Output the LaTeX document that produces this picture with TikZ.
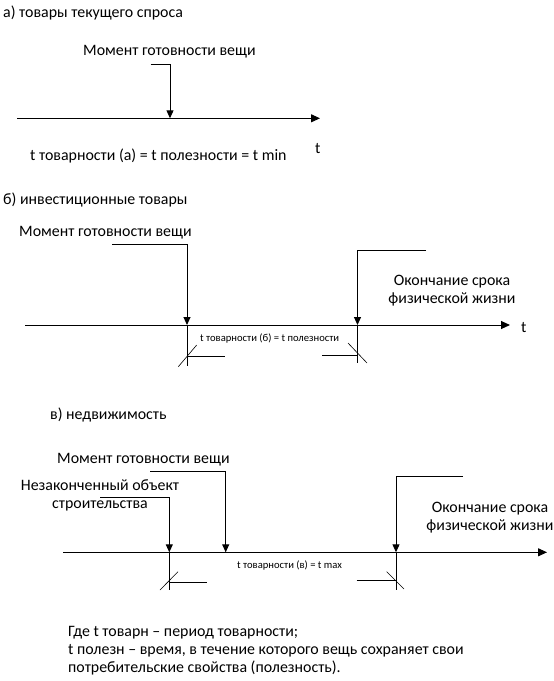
\documentclass[tikz,border=0pt]{standalone}
\usepackage{fontspec}
\setmainfont{Carlito}
\usetikzlibrary{arrows.meta}
\begin{document}
\begin{tikzpicture}[x=1pt,y=-1pt,
  txt/.style={inner sep=0pt,font=\fontsize{15.9}{17.6}\selectfont},
  small/.style={inner sep=0pt,font=\fontsize{10.6}{12}\selectfont},
  line/.style={line width=1pt,black},
  thin line/.style={line width=0.6pt,black},
  conn/.style={line width=1pt,black,-{Triangle[length=8pt,width=7pt]}},
  axisline/.style={line width=1pt,black,-{Triangle[length=9pt,width=8pt]}}]
\useasboundingbox (0,0) rectangle (554,681);
% ---------- a ----------
\node[txt,anchor=base west] (ta) at (3,17) {а) товары текущего спроса};
\node[txt,anchor=base west] (ma) at (83,55) {Момент готовности вещи};
\coordinate (a1s) at (150.7,64.3);
\coordinate (a1t) at (170,118.3);
\coordinate (axa0) at (17,118.3);
\coordinate (axa1) at (320,118.3);
\draw[axisline] (axa0) -- (axa1);
\draw[conn] (a1s) -| (a1t);
\node[txt,anchor=base west] (tta) at (315,153) {t};
\node[txt,anchor=base west] (fa) at (30,160) {t товарности (а) = t полезности = t min};
% ---------- b ----------
\node[txt,anchor=base west] (tb) at (3,204) {б) инвестиционные товары};
\node[txt,anchor=base west] (mb) at (19,236.7) {Момент готовности вещи};
\coordinate (b1s) at (112,244.3);
\coordinate (b1t) at (187,325);
\coordinate (b2s) at (426,250.7);
\coordinate (b2t) at (357.5,325);
\coordinate (axb0) at (25,325);
\coordinate (axb1) at (510,325);
\draw[axisline] (axb0) -- (axb1);
\draw[conn] (b1s) -| (b1t);
\draw[conn] (b2s) -| (b2t);
\node[txt,anchor=base west] (ttb) at (521,332) {t};
\node[txt,anchor=base] (ob1) at (452,285.7) {Окончание срока};
\node[txt,anchor=base] (ob2) at (452,303) {физической жизни};
% ticks b
\coordinate (bl0) at (187,366);
\coordinate (blh) at (187,356.7);
\coordinate (blh1) at (225,356.7);
\coordinate (bld0) at (178.3,366.7);
\coordinate (bld1) at (196.7,345);
\draw[line] (b1t) -- (bl0);
\draw[line] (blh) -- (blh1);
\draw[thin line] (bld0) -- (bld1);
\coordinate (br0) at (357.5,363);
\coordinate (brh) at (357.5,355);
\coordinate (brh1) at (322,355);
\coordinate (brd0) at (348,343);
\coordinate (brd1) at (367,363);
\draw[line] (b2t) -- (br0);
\draw[line] (brh1) -- (brh);
\draw[thin line] (brd0) -- (brd1);
\node[small,anchor=base west] (fb) at (200,341.7) {t товарности (б) = t полезности};
% ---------- c ----------
\node[txt,anchor=base west] (tc) at (50,419) {в) недвижимость};
\node[txt,anchor=base west] (mc) at (57,463) {Момент готовности вещи};
\node[txt,anchor=base] (nc1) at (100,490) {Незаконченный объект};
\node[txt,anchor=base] (nc2) at (100,508) {строительства};
\coordinate (c1s) at (150,471.7);
\coordinate (c1t) at (225.7,552.3);
\coordinate (c0s) at (100,497.3);
\coordinate (c0t) at (169.3,552.3);
\coordinate (c2s) at (463,476);
\coordinate (c2t) at (396,552.3);
\coordinate (axc0) at (63.3,552.3);
\coordinate (axc1) at (547,552.3);
\draw[axisline] (axc0) -- (axc1);
\draw[conn] (c1s) -| (c1t);
\draw[conn] (c0s) -| (c0t);
\draw[conn] (c2s) -| (c2t);
\node[txt,anchor=base] (oc1) at (490,512.7) {Окончание срока};
\node[txt,anchor=base] (oc2) at (490,530) {физической жизни};
% ticks c
\coordinate (cl0) at (169.3,590);
\coordinate (clh) at (169.3,582.7);
\coordinate (clh1) at (207,582.7);
\coordinate (cld0) at (160,590);
\coordinate (cld1) at (178,571.7);
\draw[line] (c0t) -- (cl0);
\draw[line] (clh) -- (clh1);
\draw[thin line] (cld0) -- (cld1);
\coordinate (cr0) at (396,590);
\coordinate (crh) at (396,580.7);
\coordinate (crh1) at (356.7,580.7);
\coordinate (crd0) at (386.7,571.7);
\coordinate (crd1) at (404,589);
\draw[line] (c2t) -- (cr0);
\draw[line] (crh1) -- (crh);
\draw[thin line] (crd0) -- (crd1);
\node[small,anchor=base west] (fc) at (237,568) {t товарности (в) = t max};
% ---------- legend ----------
\node[txt,anchor=base west] (g1) at (68,636.7) {Где t товарн – период товарности;};
\node[txt,anchor=base west] (g2) at (68,654.3) {t полезн – время, в течение которого вещь сохраняет свои};
\node[txt,anchor=base west] (g3) at (68,672) {потребительские свойства (полезность).};
\end{tikzpicture}
\end{document}
